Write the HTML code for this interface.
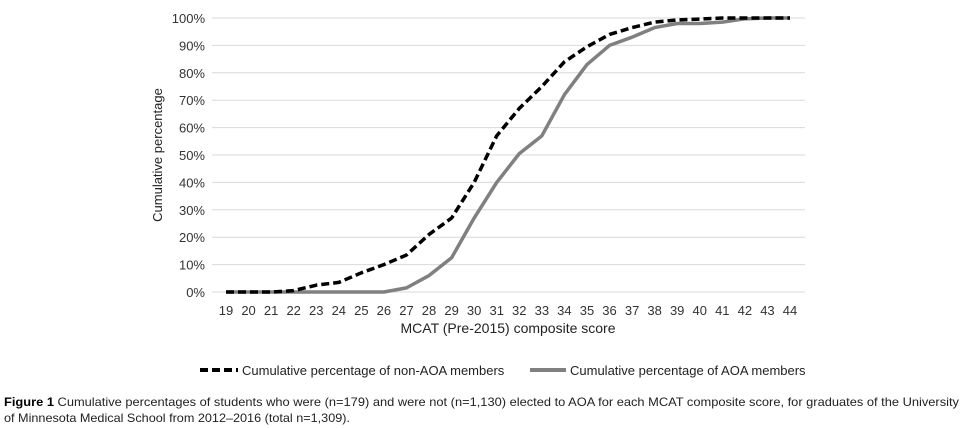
<!DOCTYPE html>
<html><head><meta charset="utf-8"><style>
html,body{margin:0;padding:0;background:#fff;}
svg{display:block;font-family:"Liberation Sans",sans-serif;}
</style></head><body>
<svg id="chart" width="963" height="428" viewBox="0 0 963 428">
<g id="grid"></g>
<g id="yticks"></g>
<g id="xticks"></g>
<g id="series"></g>
<text x="162" y="155" transform="rotate(-90 162 155)" text-anchor="middle" font-size="13" fill="#222">Cumulative percentage</text>
<text x="508" y="333" text-anchor="middle" font-size="14" fill="#222">MCAT (Pre-2015) composite score</text>
<g>
<g>
<line x1="200" y1="370" x2="238" y2="370" stroke="#000" stroke-width="4" stroke-dasharray="8,4"/>
<text x="242" y="375" font-size="13" fill="#222">Cumulative percentage of non-AOA members</text>
</g>
<g>
<line x1="530" y1="370" x2="566" y2="370" stroke="#808080" stroke-width="4"/>
<text x="570" y="375" font-size="13" fill="#222">Cumulative percentage of AOA members</text>
</g>
</g>
<g font-family="'Liberation Sans Narrow','Liberation Sans',sans-serif" font-size="12" fill="#222">
<text x="4" y="406" textLength="955" lengthAdjust="spacingAndGlyphs"><tspan font-weight="bold" fill="#000">Figure 1</tspan> Cumulative percentages of students who were (n=179) and were not (n=1,130) elected to AOA for each MCAT composite score, for graduates of the University</text>
<text x="4" y="422" textLength="346" lengthAdjust="spacingAndGlyphs">of Minnesota Medical School from 2012–2016 (total n=1,309).</text>
</g>
</svg>
<script>
const scores = [19,20,21,22,23,24,25,26,27,28,29,30,31,32,33,34,35,36,37,38,39,40,41,42,43,44];
const nonAoa = [0,0,0,0.5,2.5,3.5,7,10,13.5,21,27,40,57,67,75,84,89.5,94,96.5,98.5,99.3,99.6,100,100,100,100];
const aoa = [0,0,0,0,0,0,0,0,1.5,6,12.5,27,40,50.5,57,72,83,90,93,96.5,98,98,98.5,99.7,100,100];
const yTicks = [0,10,20,30,40,50,60,70,80,90,100];

const NS = "http://www.w3.org/2000/svg";
const x = s => 226 + (s - 19) * (790 - 226) / 25;
const y = v => 292 - v * (292 - 18) / 100;

const grid = document.getElementById('grid');
const yt = document.getElementById('yticks');
yTicks.forEach(t => {
  const l = document.createElementNS(NS, 'line');
  l.setAttribute('x1', 212); l.setAttribute('x2', 805);
  l.setAttribute('y1', y(t)); l.setAttribute('y2', y(t));
  l.setAttribute('stroke', '#d9d9d9'); l.setAttribute('stroke-width', 1);
  
  
  grid.appendChild(l);
  const tx = document.createElementNS(NS, 'text');
  tx.setAttribute('x', 205); tx.setAttribute('y', y(t) + 5);
  tx.setAttribute('text-anchor', 'end'); tx.setAttribute('font-size', 13); tx.setAttribute('fill', '#333');
  tx.textContent = t + '%';
  
  
  yt.appendChild(tx);
});
const xt = document.getElementById('xticks');
scores.forEach(s => {
  const tx = document.createElementNS(NS, 'text');
  tx.setAttribute('x', x(s)); tx.setAttribute('y', 315);
  tx.setAttribute('text-anchor', 'middle'); tx.setAttribute('font-size', 13); tx.setAttribute('fill', '#333');
  tx.textContent = s;
  
  
  xt.appendChild(tx);
});
const ser = document.getElementById('series');
function line(vals, stroke, dash, name) {
  const p = document.createElementNS(NS, 'polyline');
  p.setAttribute('points', vals.map((v, i) => x(scores[i]) + ',' + y(v)).join(' '));
  p.setAttribute('fill', 'none'); p.setAttribute('stroke', stroke); p.setAttribute('stroke-width', 3.5);
  p.setAttribute('stroke-linejoin', 'round');
  if (dash) p.setAttribute('stroke-dasharray', dash);
  
  
  ser.appendChild(p);
}
line(aoa, '#808080', null, 'aoa-line');
line(nonAoa, '#000', '8,4', 'non-aoa-line');
</script>
</body></html>
